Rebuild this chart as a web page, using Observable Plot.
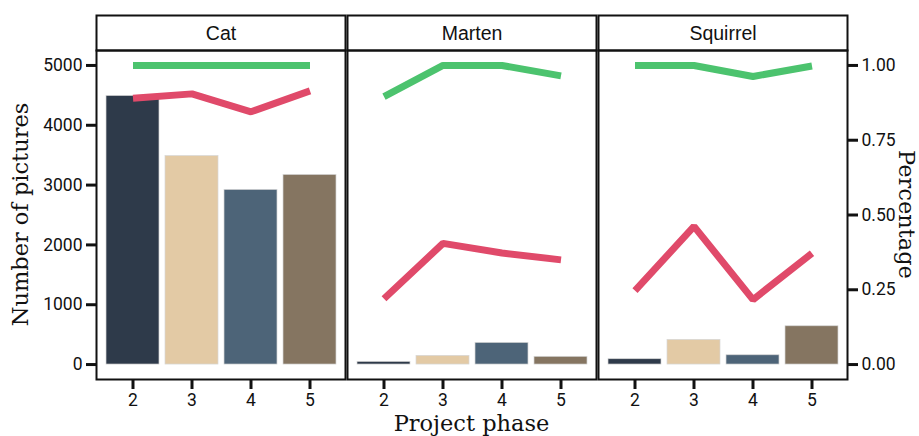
<!DOCTYPE html>
<html>
<head>
<meta charset="utf-8">
<script src="https://cdn.jsdelivr.net/npm/d3@7"></script>
<script src="https://cdn.jsdelivr.net/npm/@observablehq/plot@0.6"></script>
<style>
  html, body { margin: 0; padding: 0; background: #fff; }
  #chart svg { display: block; }
</style>
</head>
<body>
<div id="chart"></div>
<script>
// ---- data ----
const species = ["Cat", "Marten", "Squirrel"];
const phases = [2, 3, 4, 5];
const barColors = ["#2e3a4a", "#e3caa5", "#4d6478", "#857561"];

const catPictures = [4490, 3485, 2920, 3170];
const martenPictures = [45, 145, 362, 129];
const squirrelPictures = [89, 412, 155, 640];

const catGreen = [1.0, 1.0, 1.0, 1.0];
const martenGreen = [0.896, 1.0, 1.0, 0.965];
const squirrelGreen = [1.0, 1.0, 0.963, 0.998];

const catRed = [0.89, 0.905, 0.845, 0.915];
const martenRed = [0.22, 0.405, 0.373, 0.35];
const squirrelRed = [0.247, 0.462, 0.217, 0.372];

const leftTicks = [0, 1000, 2000, 3000, 4000, 5000];
const rightTicks = [0, 0.25, 0.5, 0.75, 1.0];
const secondaryMax = 5000; // percentage 1.00 maps to 5000 pictures

// ---- build table ----
const pictures = {Cat: catPictures, Marten: martenPictures, Squirrel: squirrelPictures};
const green = {Cat: catGreen, Marten: martenGreen, Squirrel: squirrelGreen};
const red = {Cat: catRed, Marten: martenRed, Squirrel: squirrelRed};
const rows = species.flatMap(s => phases.map((p, i) => ({
  species: s, phase: p, pictures: pictures[s][i], green: green[s][i], red: red[s][i]
})));

const W = 919, H = 436;
const mL = 96, mR = 72, mT = 50, mB = 57;
const plotH = H - mT - mB;

const tickFont = "Roboto, 'Noto Sans', sans-serif";

const chart = Plot.plot({
  width: W,
  height: H,
  marginLeft: mL,
  marginRight: mR,
  marginTop: mT,
  marginBottom: mB,
  style: {fontFamily: tickFont, fontSize: "17px", color: "#111", background: "#fff"},
  fx: {domain: species, paddingInner: 0.008, paddingOuter: 0, axis: null, label: null},
  x: {type: "band", domain: phases, paddingInner: 0.11, paddingOuter: 0.14, label: null},
  y: {domain: [-250, 5250], label: null},
  color: {type: "ordinal", domain: phases, range: barColors},
  marks: [
    Plot.barY(rows, {fx: "species", x: "phase", y: "pictures", fill: "phase", stroke: "#d6d6d6", strokeWidth: 0.7}),
    Plot.line(rows, {fx: "species", x: "phase", y: d => d.green * secondaryMax, stroke: "#4cc36e", strokeWidth: 7, strokeLinecap: "butt", strokeLinejoin: "miter"}),
    Plot.line(rows, {fx: "species", x: "phase", y: d => d.red * secondaryMax, stroke: "#e04a6a", strokeWidth: 7, strokeLinecap: "butt", strokeLinejoin: "miter"}),
    Plot.frame({stroke: "#111", strokeWidth: 2}),
    Plot.frame({stroke: "#111", strokeWidth: 2, insetTop: -35, insetBottom: plotH}),
    Plot.text(species, {fx: d => d, text: d => d, frameAnchor: "top", lineAnchor: "middle", dy: -17, fontSize: 19.5, fontFamily: "'Liberation Sans', Arial, sans-serif", fill: "#111"}),
    Plot.axisY({anchor: "left", ticks: leftTicks, tickFormat: d => String(d), tickSize: 10, tickPadding: 4, strokeWidth: 3, stroke: "#111", fontSize: 17.5, label: null}),
    Plot.axisY({anchor: "right", ticks: rightTicks.map(v => v * secondaryMax), tickFormat: d => (d / secondaryMax).toFixed(2), tickSize: 10, tickPadding: 4, strokeWidth: 3, stroke: "#111", fontSize: 17.5, label: null}),
    Plot.axisX({anchor: "bottom", tickSize: 10, tickPadding: 4, strokeWidth: 3, stroke: "#111", fontSize: 17.5, label: null})
  ]
});

const svg = d3.select(chart);
const titleFont = "'DejaVu Serif', 'Liberation Serif', serif";
svg.append("text")
  .attr("transform", `translate(28,${mT + plotH / 2}) rotate(-90)`)
  .attr("text-anchor", "middle")
  .attr("font-family", titleFont)
  .attr("font-size", 22.5)
  .attr("fill", "#111")
  .text("Number of pictures");
svg.append("text")
  .attr("transform", `translate(899,${mT + plotH / 2}) rotate(90)`)
  .attr("text-anchor", "middle")
  .attr("font-family", titleFont)
  .attr("font-size", 22.5)
  .attr("fill", "#111")
  .text("Percentage");
svg.append("text")
  .attr("x", mL + (W - mL - mR) / 2)
  .attr("y", 431)
  .attr("text-anchor", "middle")
  .attr("font-family", titleFont)
  .attr("font-size", 22.5)
  .attr("fill", "#111")
  .text("Project phase");

document.getElementById("chart").appendChild(chart);
</script>
</body>
</html>
